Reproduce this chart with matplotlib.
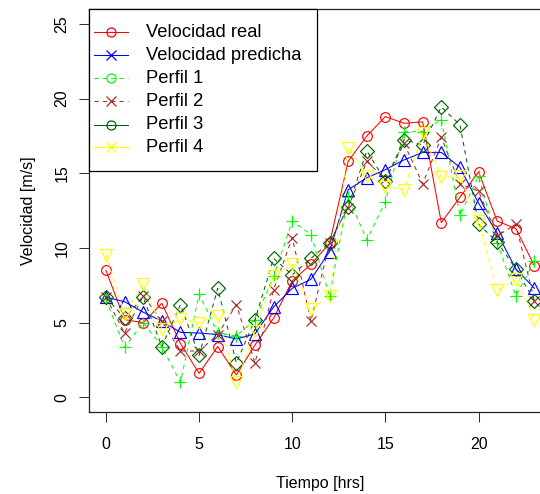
import matplotlib
matplotlib.use("Agg")
import matplotlib.pyplot as plt
from matplotlib.lines import Line2D
from matplotlib.patches import Rectangle

plt.rcParams['font.family'] = ['Liberation Sans', 'DejaVu Sans']

# data (hourly speeds)
horas = list(range(24))
vel_real = [8.5, 5.2, 5.0, 6.3, 3.6, 1.6, 3.4, 1.5, 3.5, 5.3, 7.8, 8.9,
            10.3, 15.8, 17.5, 18.8, 18.35, 18.45, 11.7, 13.4, 15.1, 11.8, 11.3, 8.8]
vel_pred = [6.7, 6.4, 5.7, 5.1, 4.35, 4.3, 4.2, 3.9, 4.25, 6.05, 7.3, 7.9,
            9.75, 13.9, 14.7, 15.25, 15.9, 16.4, 16.4, 15.4, 13.0, 11.0, 8.6, 7.3]
perfil1 = [6.55, 3.35, 5.0, 3.4, 1.0, 6.9, 4.3, 4.1, 5.2, 8.1, 11.8, 10.9,
           6.8, 13.4, 10.55, 13.1, 17.8, 17.8, 18.6, 12.2, 14.8, 10.35, 6.8, 9.1]
perfil2 = [6.7, 4.3, 6.8, 5.1, 3.1, 3.1, 4.2, 6.2, 2.3, 7.2, 10.7, 5.1,
           10.35, 12.7, 15.8, 14.6, 17.0, 14.3, 17.4, 14.3, 13.8, 10.8, 11.6, 6.45]
perfil3 = [6.7, 5.3, 6.7, 3.4, 6.2, 2.8, 7.3, 2.3, 5.2, 9.3, 8.2, 9.3,
           10.35, 12.75, 16.5, 14.5, 17.25, 16.9, 19.45, 18.25, 11.6, 10.4, 8.6, 6.45]
perfil4 = [9.55, 5.6, 7.6, 4.6, 5.25, 5.0, 5.45, 1.0, 4.45, 8.1, 8.9, 5.9,
           6.75, 16.7, 14.85, 14.1, 13.9, 17.7, 14.75, 14.8, 11.8, 7.2, 7.9, 5.2]

etiquetas = ["Velocidad real", "Velocidad predicha", "Perfil 1",
             "Perfil 2", "Perfil 3", "Perfil 4"]

W, H = 540, 494
fig = plt.figure(figsize=(W / 100, H / 100), dpi=100)

# plot region in pixels (R style, runs past the right edge of the image)
left, right, top, bottom = 88.8, 551.6, 9.1, 412.2
ax = fig.add_axes([left / W, 1 - bottom / H, (right - left) / W, (bottom - top) / H])

lw = 0.75
dash = (0, (4, 4))
ax.plot(horas, vel_real, color='red', lw=lw, marker='o', ms=7, mfc='none', mew=0.85)
ax.plot(horas, vel_pred, color='blue', lw=lw, marker='^', ms=8, mfc='none', mew=0.85)
ax.plot(horas, perfil1, color='#00FF00', lw=lw, ls=dash, marker='+', ms=9, mew=0.85)
ax.plot(horas, perfil2, color='#A52A2A', lw=lw, ls=dash, marker='x', ms=6.5, mew=0.85)
ax.plot(horas, perfil3, color='#006400', lw=lw, ls=dash, marker='D', ms=7, mfc='none', mew=0.85)
ax.plot(horas, perfil4, color='#FFFF00', lw=lw, ls=dash, marker='v', ms=8, mfc='none', mew=0.85)

ax.set_xlim(-0.92, 23.92)
ax.set_ylim(-1, 26)
ax.set_xticks([0, 5, 10, 15, 20])
ax.set_yticks([0, 5, 10, 15, 20, 25])
ax.tick_params(length=7, width=0.75, labelsize=11.5, color='#333333')
ax.tick_params(axis='x', pad=11)
ax.tick_params(axis='y', pad=7)
for lab in ax.get_yticklabels():
    lab.set_rotation(90)
    lab.set_va('center')
for s in ax.spines.values():
    s.set_linewidth(0.9)
    s.set_color('#222222')

fig.text(320 / W, 1 - 483 / H, "Tiempo [hrs]", ha='center', va='center', fontsize=11.5)
fig.text(28 / W, 1 - 210.7 / H, "Velocidad [m/s]", ha='center', va='center',
         rotation=90, fontsize=11.5)

# legend, drawn like R's legend() box
def px(x, y):
    return x / W, 1 - y / H

x0, y0 = px(88.8, 170.7)
x1, y1 = px(317.3, 9.3)
fig.add_artist(Rectangle((x0, y0), x1 - x0, y1 - y0, transform=fig.transFigure,
                         facecolor='white', edgecolor='black', lw=0.9, zorder=5))
leg_col = ['red', 'blue', '#00FF00', '#A52A2A', '#006400', '#FFFF00']
leg_mk = ['o', 'x', 'o', 'x', 'o', 'x']
leg_ls = ['-', '-', dash, dash, '-', '-']
for i, lab in enumerate(etiquetas):
    yy = 32.5 + 23 * i
    xa, ya = px(94, yy)
    xb, _ = px(128.3, yy)
    xm, _ = px(111, yy)
    fig.add_artist(Line2D([xa, xb], [ya, ya], transform=fig.transFigure,
                          color=leg_col[i], lw=lw, ls=leg_ls[i], zorder=6))
    fig.add_artist(Line2D([xm], [ya], transform=fig.transFigure, color=leg_col[i],
                          marker=leg_mk[i], ms=6.5, mfc='none', mew=0.9, zorder=6))
    xt, yt = px(146, yy)
    fig.text(xt, yt, lab, ha='left', va='center', fontsize=13.2, zorder=7)

fig.savefig("out.png", dpi=100)
